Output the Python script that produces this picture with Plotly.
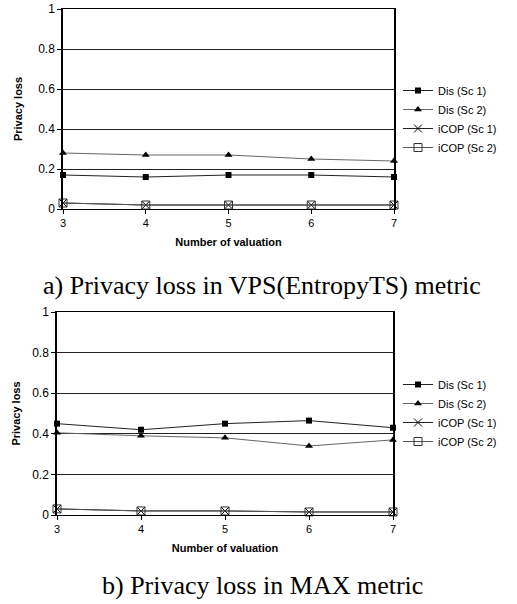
import plotly.graph_objects as go

# ---------------- data ----------------
valuations = [3, 4, 5, 6, 7]

# a) VPS(EntropyTS) metric
vps_dis_sc1 = [0.17, 0.16, 0.17, 0.17, 0.16]
vps_dis_sc2 = [0.28, 0.27, 0.27, 0.25, 0.24]
vps_icop_sc1 = [0.03, 0.02, 0.02, 0.02, 0.02]
vps_icop_sc2 = [0.03, 0.02, 0.02, 0.02, 0.02]

# b) MAX metric
max_dis_sc1 = [0.45, 0.42, 0.45, 0.465, 0.43]
max_dis_sc2 = [0.405, 0.39, 0.38, 0.34, 0.37]
max_icop_sc1 = [0.03, 0.02, 0.02, 0.015, 0.015]
max_icop_sc2 = [0.03, 0.02, 0.02, 0.015, 0.015]

series_names = ["Dis (Sc 1)", "Dis (Sc 2)", "iCOP (Sc 1)", "iCOP (Sc 2)"]
y_ticks = [0, 0.2, 0.4, 0.6, 0.8, 1]
y_tick_labels = ["0", "0.2", "0.4", "0.6", "0.8", "1"]
x_title = "Number of valuation"
y_title = "Privacy loss"
captions = ["a) Privacy loss in VPS(EntropyTS) metric", "b) Privacy loss in MAX metric"]

# ---------------- styling ----------------
W, H = 517, 604
SANS = "Liberation Sans, Arial, sans-serif"
SERIF = "Liberation Serif, Times New Roman, serif"

styles = [
    dict(marker=dict(symbol="square", size=6, color="black"), line=dict(color="#222", width=1)),
    dict(marker=dict(symbol="triangle-up", size=7, color="black"), line=dict(color="#666", width=1)),
    dict(marker=dict(symbol="x-thin-open", size=8, color="black", line=dict(width=1, color="black")),
         line=dict(color="#222", width=1)),
    dict(marker=dict(symbol="square-open", size=8, color="#333", line=dict(width=1, color="#333")),
         line=dict(color="#555", width=1)),
]

def px_x(p):
    return p / W

def px_y(p):
    return 1 - p / H

fig = go.Figure()

panels = [
    dict(data=[vps_dis_sc1, vps_dis_sc2, vps_icop_sc1, vps_icop_sc2],
         xdom=[px_x(63), px_x(394)], ydom=[px_y(209), px_y(9)],
         legend="legend", legend_y=px_y(119), ystand=13, xstand=10),
    dict(data=[max_dis_sc1, max_dis_sc2, max_icop_sc1, max_icop_sc2],
         xdom=[px_x(57), px_x(393)], ydom=[px_y(515), px_y(312)],
         legend="legend2", legend_y=px_y(413), ystand=9, xstand=10),
]

layout_axes = {}
for i, p in enumerate(panels):
    sfx = "" if i == 0 else str(i + 1)
    for vals, name, st in zip(p["data"], series_names, styles):
        fig.add_trace(go.Scatter(
            x=valuations, y=vals, name=name, mode="lines+markers",
            marker=st["marker"], line=st["line"],
            xaxis="x" + sfx, yaxis="y" + sfx, legend=p["legend"], cliponaxis=False,
        ))
    layout_axes["xaxis" + sfx] = dict(
        domain=p["xdom"], anchor="y" + sfx, range=[3, 7], tickvals=valuations,
        ticks="outside", ticklen=4, tickcolor="black", showgrid=False, automargin=False,
        showline=True, linecolor="black", linewidth=1, mirror=True, zeroline=False,
        tickfont=dict(family=SANS, size=11, color="black"),
        title=dict(text=x_title, font=dict(family=SANS, size=11, color="black", weight="bold"),
                   standoff=p["xstand"]),
    )
    layout_axes["yaxis" + sfx] = dict(
        domain=p["ydom"], anchor="x" + sfx, range=[0, 1], tickvals=y_ticks, ticktext=y_tick_labels,
        ticks="outside", ticklen=4, tickcolor="black", showgrid=True, gridcolor="#222", gridwidth=1,
        showline=True, linecolor="black", linewidth=1.5, mirror=True, zeroline=False, automargin=False,
        tickfont=dict(family=SANS, size=12, color="black"),
        title=dict(text=y_title, font=dict(family=SANS, size=11, color="black", weight="bold"),
                   standoff=p["ystand"]),
    )
    layout_axes[p["legend"]] = dict(
        x=px_x(398), y=p["legend_y"], xanchor="left", yanchor="middle",
        font=dict(family=SANS, size=11, color="black"), bgcolor="rgba(0,0,0,0)",
        itemwidth=30, tracegroupgap=0,
    )

fig.update_layout(
    width=W, height=H, margin=dict(l=0, r=0, t=0, b=0, autoexpand=False),
    paper_bgcolor="white", plot_bgcolor="white", showlegend=True,
    **layout_axes,
)

for cap, yc in zip(captions, [285, 585]):
    fig.add_annotation(text=cap, xref="paper", yref="paper", x=px_x(262), y=px_y(yc),
                       xanchor="center", yanchor="middle", showarrow=False,
                       font=dict(family=SERIF, size=26, color="black"))

fig.write_html("out.html", config={"displayModeBar": False},
               post_script="document.body.style.margin='0';document.body.style.overflow='hidden';")
